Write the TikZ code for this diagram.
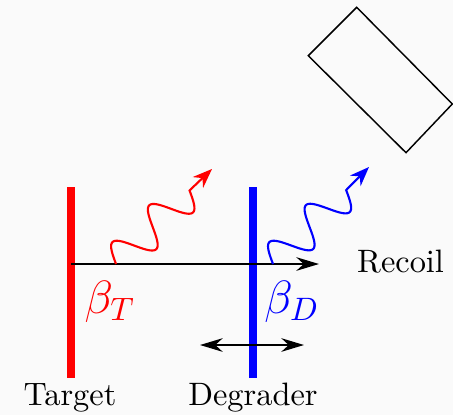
\documentclass[tikz,border=0pt]{standalone}
\usetikzlibrary{arrows.meta}
\definecolor{bg}{RGB}{250,250,250}
\begin{document}
\begin{tikzpicture}[x=0.3086pt,y=-0.3086pt,
  bar/.style={line width=2.4pt},
  beam/.style={line width=0.45pt,-{Stealth[length=7pt,width=4.2pt]}},
  dbl/.style={line width=0.45pt,{Stealth[length=7pt,width=4.2pt]}-{Stealth[length=7pt,width=4.2pt]}},
  photon/.style={line width=0.65pt, -{Stealth[length=6pt,width=4.6pt]}},
  lab/.style={inner sep=0pt}]
\fill[bg] (0,0) rectangle (453,415);
\useasboundingbox (0,0) rectangle (453,415);
% bars
\coordinate (T1) at (71,187); \coordinate (T2) at (71,378);
\coordinate (D1) at (253,187); \coordinate (D2) at (253,378);
\draw[bar,red] (T1) -- (T2);
\draw[bar,blue] (D1) -- (D2);
% beam
\coordinate (bs) at (71,264); \coordinate (be) at (319,264);
\draw[beam] (bs) -- (be);
% photons
\coordinate (ps1) at (116,264); \coordinate (pe1) at (212,169);
\draw[photon,red] [shift={(ps1)},rotate=45]
  plot[domain=0:104, samples=81, smooth] (\x,{-18*sin(\x*6.9231)}) -- (pe1);
\coordinate (ps2) at (273,264); \coordinate (pe2) at (369,167);
\draw[photon,blue] [shift={(ps2)},rotate=45.3]
  plot[domain=0:104, samples=81, smooth] (\x,{-18*sin(\x*6.9231)}) -- (pe2);
% degrader movement
\coordinate (ml) at (200,345); \coordinate (mr) at (304,345);
\draw[dbl] (ml) -- (mr);
% detector
\coordinate (r1) at (356.7,7.3); \coordinate (r2) at (308.3,55.7);
\coordinate (r3) at (406,152.7); \coordinate (r4) at (452.3,104);
\draw[line width=0.45pt] (r1) -- (r2) -- (r3) -- (r4) -- cycle;
% labels
\node[lab,red] (bT) at (110,302) {\Large$\beta_T$};
\node[lab,blue] (bD) at (292,302) {\Large$\beta_D$};
\node[lab,anchor=base west] (rec) at (356.5,272) {Recoil};
\node[lab,anchor=base] (tgt) at (70,405) {Target};
\node[lab,anchor=base] (deg) at (253,405) {Degrader};
\end{tikzpicture}
\end{document}
